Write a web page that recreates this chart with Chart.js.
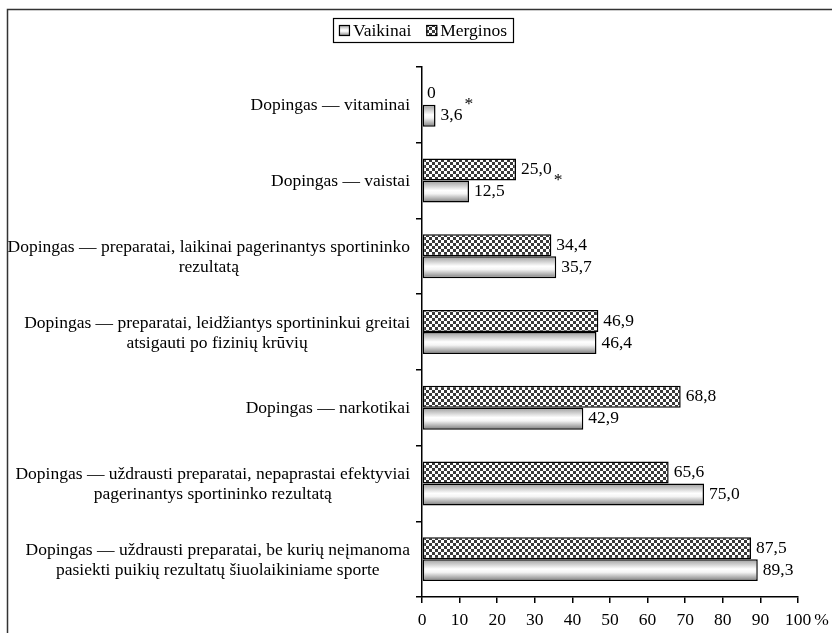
<!DOCTYPE html>
<html><head><meta charset="utf-8">
<script src="https://cdn.jsdelivr.net/npm/chart.js@4"></script>
<style>html,body{margin:0;padding:0;background:#fff}</style>
</head><body>
<canvas id="c" width="832" height="633" style="display:block"></canvas>
<script>
const categories = [
  ["Dopingas — vitaminai"],
  ["Dopingas — vaistai"],
  ["Dopingas — preparatai, laikinai pagerinantys sportininko", "rezultatą"],
  ["Dopingas — preparatai, leidžiantys sportininkui greitai", "atsigauti po fizinių krūvių"],
  ["Dopingas — narkotikai"],
  ["Dopingas — uždrausti preparatai, nepaprastai efektyviai", "pagerinantys sportininko rezultatą"],
  ["Dopingas — uždrausti preparatai, be kurių neįmanoma", "pasiekti puikių rezultatų šiuolaikiniame sporte"]
];
const vaikinai = [3.6, 12.5, 35.7, 46.4, 42.9, 75.0, 89.3];
const merginos = [0, 25.0, 34.4, 46.9, 68.8, 65.6, 87.5];
const vaikinaiNotes = ['*', '', '', '', '', '', ''];
const merginosNotes = ['', '*', '', '', '', '', ''];
const xTicks = [0, 10, 20, 30, 40, 50, 60, 70, 80, 90, 100];
const xUnit = '%';
const seriesNames = ['Vaikinai', 'Merginos'];

const FSIZE = 17.5;
const FONT = FSIZE + 'px "Liberation Serif", "Times New Roman", serif';
const CAT_PCT = 0.58;

const canvas = document.getElementById('c');
const mainCtx = canvas.getContext('2d');

function makeChecker() {
  const c = document.createElement('canvas');
  c.width = 6; c.height = 6;
  const g = c.getContext('2d');
  g.fillStyle = '#ffffff'; g.fillRect(0, 0, 6, 6);
  g.fillStyle = '#3a3a3a'; g.fillRect(0, 0, 3, 3); g.fillRect(3, 3, 3, 3);
  return mainCtx.createPattern(c, 'repeat');
}
const checker = makeChecker();

function grayGrad(ctx, top, bottom) {
  const g = ctx.createLinearGradient(0, top, 0, bottom);
  g.addColorStop(0, '#9a9a9a');
  g.addColorStop(0.45, '#ffffff');
  g.addColorStop(0.6, '#f4f4f4');
  g.addColorStop(1, '#7a7a7a');
  return g;
}

function fmt(v) { return v === 0 ? '0' : v.toFixed(1).replace('.', ','); }

const framePlugin = {
  id: 'frame',
  beforeDraw(chart) {
    const c = chart.ctx;
    c.save();
    c.strokeStyle = '#333'; c.lineWidth = 1.5;
    c.beginPath();
    c.moveTo(7.5, 640); c.lineTo(7.5, 9.5); c.lineTo(840, 9.5);
    c.stroke();
    c.restore();
  }
};

const labelPlugin = {
  id: 'labels',
  afterDraw(chart) {
    const c = chart.ctx;
    const ys = chart.scales.y, xs = chart.scales.x;
    c.save();
    c.font = FONT; c.fillStyle = '#000';
    // category labels
    const lh = 20;
    categories.forEach((lines, i) => {
      const cy = ys.getPixelForValue(i);
      const w = Math.max(...lines.map(l => c.measureText(l).width));
      const cx = chart.chartArea.left - 12 - w / 2;
      c.textAlign = 'center'; c.textBaseline = 'middle';
      lines.forEach((l, k) => {
        c.fillText(l, cx, cy - (lines.length - 1) * lh / 2 + k * lh + 1);
      });
    });
    // value labels
    const notes = [merginosNotes, vaikinaiNotes];
    chart.data.datasets.forEach((ds, di) => {
      const meta = chart.getDatasetMeta(di);
      meta.data.forEach((el, i) => {
        const t = fmt(ds.data[i]);
        const x = el.x + 5, y = el.y;
        c.textAlign = 'left'; c.textBaseline = 'middle';
        c.fillText(t, x, y);
        const n = notes[di][i];
        if (n) {
          const w = c.measureText(t).width;
          c.fillText(n, x + w + 2, di === 1 ? y - 11 : y + 11);
        }
      });
    });
    // unit after last tick
    const lastX = xs.getPixelForValue(xTicks[xTicks.length - 1]);
    const lw = c.measureText(String(xTicks[xTicks.length - 1])).width;
    c.textAlign = 'left'; c.textBaseline = 'middle';
    c.fillText(xUnit, lastX + lw / 2 + 3, xs.top + 23);
    // legend
    const items = [
      { label: seriesNames[0], fill: grayGrad(c, 25, 36) },
      { label: seriesNames[1], fill: checker }
    ];
    const box = 11, gap = 3, itemGap = 15, pad = 6;
    const widths = items.map(it => box + gap + c.measureText(it.label).width);
    const total = widths.reduce((a, b) => a + b, 0) + itemGap * (items.length - 1) + pad * 2;
    const lx = 423 - total / 2, ly = 18, lhgt = 24;
    c.strokeStyle = '#000'; c.lineWidth = 1.2;
    c.strokeRect(Math.round(lx) + 0.5, ly + 0.5, Math.round(total), lhgt);
    let px = lx + pad;
    items.forEach((it, k) => {
      c.fillStyle = it.fill;
      c.fillRect(px, 25, box, box);
      c.strokeStyle = '#000'; c.lineWidth = 1.2;
      c.strokeRect(px + 0.5, 25.5, box - 1, box - 1);
      c.fillStyle = '#000'; c.textAlign = 'left'; c.textBaseline = 'middle';
      c.fillText(it.label, px + box + gap, 31);
      px += widths[k] + itemGap;
    });
    c.restore();
  }
};

function barFill(ctx, lower) {
  const chart = ctx.chart;
  const ys = chart.scales.y;
  if (!ys || ys.top === undefined || ctx.type !== 'data') return '#ccc';
  const center = ys.getPixelForValue(ctx.dataIndex);
  const band = (ys.bottom - ys.top) / categories.length;
  const size = band * CAT_PCT / 2;
  return lower ? grayGrad(chart.ctx, center, center + size) : grayGrad(chart.ctx, center - size, center);
}

new Chart(canvas, {
  type: 'bar',
  data: {
    labels: categories.map(l => l.join(' ')),
    datasets: [
      { label: seriesNames[1], data: merginos, backgroundColor: checker,
        borderColor: '#000', borderWidth: 1.5, borderSkipped: false },
      { label: seriesNames[0], data: vaikinai, backgroundColor: (ctx) => barFill(ctx, true),
        borderColor: '#000', borderWidth: 1.5, borderSkipped: false }
    ]
  },
  options: {
    indexAxis: 'y',
    responsive: false,
    animation: false,
    devicePixelRatio: 1,
    layout: { padding: { left: 0, right: 34, top: 67, bottom: 0 } },
    datasets: { bar: { categoryPercentage: CAT_PCT, barPercentage: 1 } },
    plugins: { legend: { display: false }, tooltip: { enabled: false } },
    scales: {
      x: {
        min: 0, max: 100,
        afterBuildTicks: s => { s.ticks = xTicks.map(v => ({ value: v })); },
        ticks: { color: '#000', font: { family: '"Liberation Serif", serif', size: FSIZE }, padding: 7, maxRotation: 0, autoSkip: false },
        grid: { drawOnChartArea: false, tickLength: 6, color: '#000', lineWidth: 1.5 },
        border: { color: '#000', width: 1.5 },
        afterFit: s => { s.height = 36; }
      },
      y: {
        ticks: { display: false },
        grid: { offset: true, drawOnChartArea: false, tickLength: 6, color: '#000', lineWidth: 1.5 },
        border: { color: '#000', width: 1.5 },
        afterFit: s => { s.width = 422; }
      }
    }
  },
  plugins: [framePlugin, labelPlugin]
});
</script>
</body></html>
